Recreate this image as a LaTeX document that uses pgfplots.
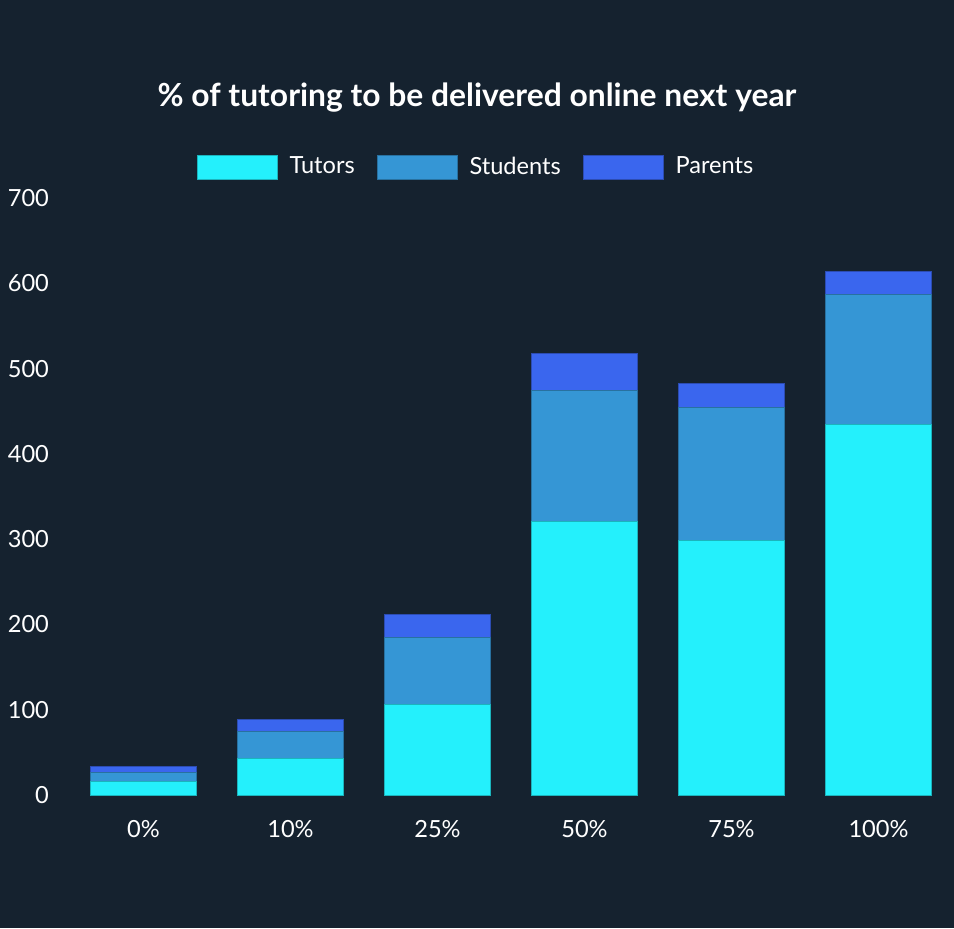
\documentclass[border=0pt]{standalone}
\usepackage{fontspec}
\setmainfont{Lato}
\usepackage{pgfplots}
\pgfplotsset{compat=1.18}
\definecolor{bg}{HTML}{15222F}
\definecolor{ctut}{HTML}{24F0FC}
\definecolor{cstu}{HTML}{3596D5}
\definecolor{cpar}{HTML}{3A66EE}
\begin{document}
\begin{tikzpicture}[x=1pt,y=1pt]
\fill[bg] (0,0) rectangle (477,464);
\node[text=white,font=\bfseries\fontsize{15.9}{19}\selectfont] at (238.5,415) {\% of tutoring to be delivered online next year};
\begin{axis}[
  at={(35pt,66.5pt)}, anchor=south west,
  scale only axis, width=441pt, height=298.5pt,
  ybar stacked, bar width=0.72,
  xmin=-0.5, xmax=5.5, ymin=0, ymax=700,
  xtick={0,...,5}, xticklabels={0\%,10\%,25\%,50\%,75\%,100\%},
  ytick={0,100,...,700},
  axis line style={draw=none}, major tick length=0pt,
  tick label style={text=white,font=\fontsize{11.8}{14}\selectfont},
  /pgf/number format/assume math mode=true,
  yticklabel style={anchor=east,xshift=-7pt},
  xticklabel style={yshift=-9pt},
  legend style={at={(0.4615,1)},anchor=center,yshift=15.5pt,draw=none,fill=none,
    text=white,font=\fontsize{11.8}{14}\selectfont,
    legend columns=3, /tikz/every even column/.append style={column sep=9pt}},
  legend image code/.code={\draw[#1] (0pt,-6pt) rectangle (40pt,6pt); \path (44pt,0pt);},
]
\addplot[fill=ctut,draw=ctut!75!black,line width=0.4pt] coordinates {(0,16) (1,43) (2,106) (3,321) (4,298) (5,435)};
\addplot[fill=cstu,draw=cstu!75!black,line width=0.4pt] coordinates {(0,10) (1,32) (2,79) (3,153) (4,156) (5,152)};
\addplot[fill=cpar,draw=cpar!75!black,line width=0.4pt] coordinates {(0,7) (1,14) (2,27) (3,44) (4,29) (5,27)};
\legend{Tutors,Students,Parents}
\end{axis}
\end{tikzpicture}
\end{document}
